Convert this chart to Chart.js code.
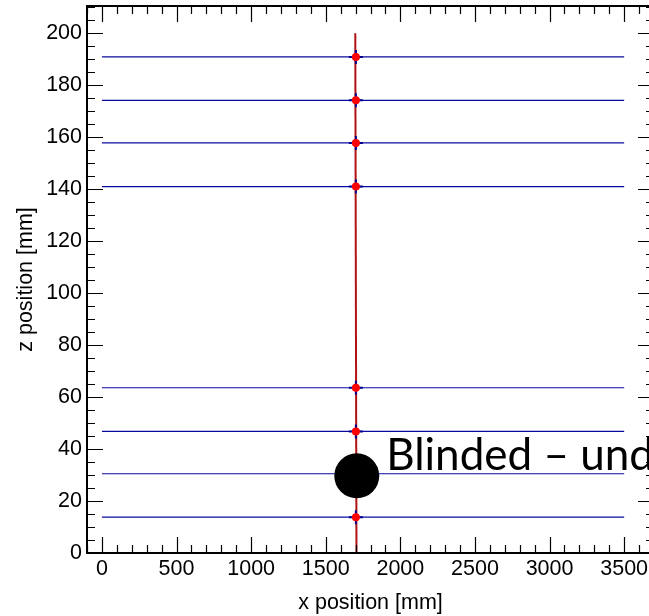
<!DOCTYPE html>
<html>
<head>
<meta charset="utf-8">
<script src="https://cdn.jsdelivr.net/npm/chart.js@4.4.1/dist/chart.umd.min.js"></script>
<style>
  html, body { margin: 0; padding: 0; background: #fff; overflow: hidden; }
  canvas { display: block; }
</style>
</head>
<body>
<canvas id="c" width="660" height="616"></canvas>
<script>
// Detector layer planes (z in mm) and their extent along x
const layerZ = [13.8, 30.5, 46.8, 63.6, 141.0, 157.8, 174.2, 190.9];
const layerXStart = 0;
const layerXEnd = 3500;

// Reconstructed hits on the layers
const hitX = [1702, 1702, 1702, 1702, 1702, 1702, 1702];
const hitZ = [13.8, 46.8, 63.6, 141.0, 157.8, 174.2, 190.9];

// Fitted track end points
const trackX = [1706, 1698];
const trackZ = [0, 200];

// Blinded hit marker and its caption
const blindX = [1708];
const blindZ = [29.7];
const blindText = 'Blinded – und';
const blindTextX = 1905;
const blindTextZ = 32;

// Axis ranges, labelled ticks and minor tick spacing
const xRange = [-100, 3700];
const xTickValues = [0, 500, 1000, 1500, 2000, 2500, 3000, 3500];
const xMinorStep = 100;
const zRange = [0, 210.5];
const zTickValues = [0, 20, 40, 60, 80, 100, 120, 140, 160, 180, 200];
const zMinorStep = 5;

const axisFont = { family: '"Liberation Sans", Arial, Helvetica, sans-serif', size: 21.5 };

const pts = (xs, zs) => xs.map((v, i) => ({ x: v, y: zs[i] }));

const layerSets = layerZ.map(z => ({
  data: [{ x: layerXStart, y: z }, { x: layerXEnd, y: z }],
  showLine: true,
  borderColor: '#0a0aa0',
  borderWidth: 1.2,
  pointRadius: 0,
  order: 5
}));

// minor tick values between the scale limits
function minorValues(scale, step) {
  const out = [];
  for (let v = Math.ceil(scale.min / step) * step; v <= scale.max + 1e-9; v += step) out.push(v);
  return out;
}
const near = (v, list) => list.some(t => Math.abs(t - v) < 1e-6);

// Inward ticks on all four sides plus the frame
const frameTicks = {
  id: 'frameTicks',
  afterDraw(chart) {
    const { ctx, chartArea: a, scales: { x, y } } = chart;
    // major ticks repeat with the labelled spacing outside the labelled range
    const xMajor = xTickValues[1] - xTickValues[0];
    const zMajor = zTickValues[1] - zTickValues[0];
    const isMaj = (v, m) => Math.abs(v / m - Math.round(v / m)) < 1e-6;
    ctx.save();
    ctx.strokeStyle = '#000';
    ctx.lineWidth = 1.2;
    ctx.beginPath();
    minorValues(x, xMinorStep).forEach(v => {
      const px = Math.round(x.getPixelForValue(v)) + 0.5;
      const len = (near(v, xTickValues) || isMaj(v, xMajor)) ? 16 : 8;
      ctx.moveTo(px, a.bottom); ctx.lineTo(px, a.bottom - len);
      ctx.moveTo(px, a.top); ctx.lineTo(px, a.top + len);
    });
    minorValues(y, zMinorStep).forEach(v => {
      const py = Math.round(y.getPixelForValue(v)) + 0.5;
      const len = (near(v, zTickValues) || isMaj(v, zMajor)) ? 16 : 8;
      ctx.moveTo(a.left, py); ctx.lineTo(a.left + len, py);
      ctx.moveTo(a.right, py); ctx.lineTo(a.right - len, py);
    });
    ctx.stroke();
    ctx.lineWidth = 2;
    ctx.strokeRect(a.left, a.top, a.right - a.left, a.bottom - a.top);

    // caption next to the blinded hit
    ctx.fillStyle = '#000';
    ctx.font = '44px Lato, "Open Sans", sans-serif';
    ctx.textAlign = 'left';
    ctx.textBaseline = 'alphabetic';
    ctx.fillText(blindText, x.getPixelForValue(blindTextX), y.getPixelForValue(blindTextZ));
    ctx.restore();
  }
};

new Chart(document.getElementById('c'), {
  type: 'scatter',
  data: {
    datasets: [
      ...layerSets,
      {
        data: pts(trackX, trackZ),
        showLine: true,
        borderColor: '#b01212',
        borderWidth: 2,
        pointRadius: 0,
        order: 4
      },
      {
        data: pts(hitX, hitZ),
        pointStyle: 'cross',
        pointRadius: 7,
        pointBorderColor: '#000090',
        pointBorderWidth: 2,
        order: 3
      },
      {
        data: pts(hitX, hitZ),
        pointStyle: 'circle',
        pointRadius: 4,
        pointBackgroundColor: '#ff0000',
        pointBorderColor: '#ff0000',
        pointBorderWidth: 0,
        order: 2
      },
      {
        data: pts(blindX, blindZ),
        pointStyle: 'circle',
        pointRadius: 22.5,
        pointBackgroundColor: '#000',
        pointBorderColor: '#000',
        pointBorderWidth: 0,
        order: 1
      }
    ]
  },
  options: {
    responsive: false,
    animation: false,
    events: [],
    layout: { autoPadding: false, padding: { top: 6, right: 6, left: 0, bottom: 0 } },
    plugins: { legend: { display: false }, tooltip: { enabled: false } },
    scales: {
      x: {
        type: 'linear',
        min: xRange[0],
        max: xRange[1],
        border: { display: false },
        grid: { display: false, drawTicks: false },
        afterBuildTicks(s) { s.ticks = xTickValues.map(v => ({ value: v })); },
        ticks: {
          autoSkip: false,
          maxRotation: 0,
          padding: 3,
          color: '#000',
          font: axisFont,
          callback: v => String(v)
        },
        title: { display: true, text: 'x position [mm]', color: '#000', font: axisFont, padding: { top: 0, bottom: 0.5 } },
        afterFit(s) { s.height = 63; s.paddingLeft = 0; s.paddingRight = 0; }
      },
      y: {
        type: 'linear',
        min: zRange[0],
        max: zRange[1],
        border: { display: false },
        grid: { display: false, drawTicks: false },
        afterBuildTicks(s) { s.ticks = zTickValues.map(v => ({ value: v })); },
        ticks: {
          autoSkip: false,
          padding: 5,
          color: '#000',
          font: axisFont,
          callback: v => String(v)
        },
        title: { display: true, text: 'z position [mm]', color: '#000', font: axisFont, padding: { top: 13, bottom: 0 } },
        afterFit(s) { s.width = 87; s.paddingTop = 0; s.paddingBottom = 0; }
      }
    }
  },
  plugins: [frameTicks]
});
</script>
</body>
</html>
